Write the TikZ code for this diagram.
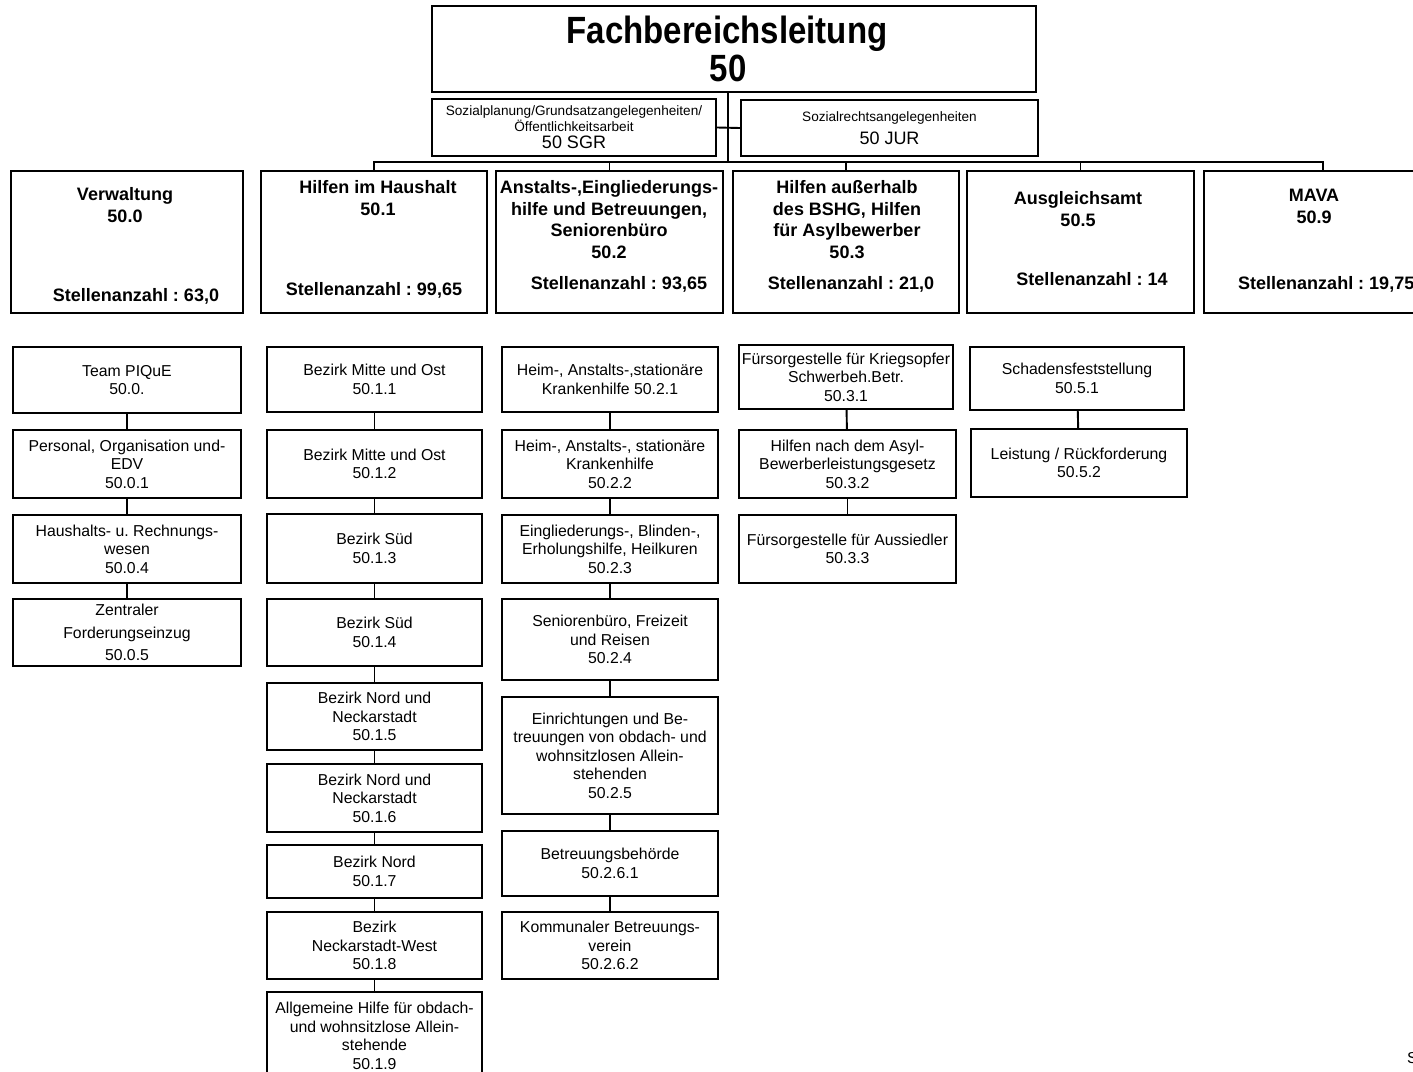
\documentclass[tikz,border=0pt]{standalone}
\usepackage{graphicx}
\usepackage{fontspec}
\setmainfont{Liberation Sans}
\frenchspacing

\begin{document}
\begin{tikzpicture}[x=1pt,y=-1pt,
  boxline/.style={draw, line width=2pt, inner sep=0pt, align=center},
  sz/.style 2 args={minimum width=#1pt, minimum height=#2pt},
  unitbox/.style={boxline, font=\fontsize{15.8}{18.5}\selectfont},
  dept/.style={boxline, minimum height=142pt},
  depttext/.style={inner sep=0pt, align=center, font=\fontsize{18}{21.5}\selectfont\bfseries},
  link/.style={line width=1.9pt}]
% Page frame
\useasboundingbox (0,0) rectangle (1413,1071);
% Head of department
\node[boxline, sz={604}{86}, font=\fontsize{33}{38}\selectfont\bfseries] (fbl) at (734,49)
  {\scalebox{1}[1.15]{Fachbereichsleitung}\kern14pt\\\scalebox{1}[1.15]{50}\kern12pt};
% Staff units beside the trunk
\node[boxline, sz={284}{57}, font=\fontsize{13.6}{13.5}\selectfont] (sgr) at (574,127.5)
  {Sozialplanung/Grundsatzangelegenheiten/\\Öffentlichkeitsarbeit\\[4pt]{\fontsize{18}{18}\selectfont 50 SGR}};
\node[boxline, sz={297}{56}, font=\fontsize{13.6}{14}\selectfont] (jur) at (889.5,128)
  {Sozialrechtsangelegenheiten\\[6pt]{\fontsize{18}{18}\selectfont 50 JUR}};
% Trunk down to the bus
\coordinate (hub) at (728,163);
\draw[link] (fbl.south -| hub) -- (hub);
\draw[link] (sgr.east) -- (jur.west);
% Departments
\node[dept, sz={232}{142}] (verw) at (127,242) {};
\node[dept, sz={226}{142}] (hih) at (374,242) {};
\node[dept, sz={227}{142}] (anst) at (609.5,242) {};
\node[dept, sz={226}{142}] (ausb) at (846,242) {};
\node[dept, sz={227}{142}] (ausg) at (1080.5,242) {};
\node[dept, sz={238}{142}] (mava) at (1323,242) {};
% Department titles
\node[depttext] (verwT) at (125,205) {Verwaltung\\50.0};
\node[depttext] (hihT) at (378,198) {Hilfen im Haushalt\\50.1};
\node[depttext] (anstT) at (609,219.5) {Anstalts-,Eingliederungs-\\hilfe und Betreuungen,\\Seniorenbüro\\50.2};
\node[depttext] (ausbT) at (847,219.5) {Hilfen außerhalb\\des BSHG, Hilfen\\für Asylbewerber\\50.3};
\node[depttext] (ausgT) at (1078,209) {Ausgleichsamt\\50.5};
\node[depttext] (mavaT) at (1314,206.5) {MAVA\\50.9};
% Head counts
\node[depttext] (verwS) at (136,296) {Stellenanzahl : 63,0};
\node[depttext] (hihS) at (374,290) {Stellenanzahl : 99,65};
\node[depttext] (anstS) at (619,284) {Stellenanzahl : 93,65};
\node[depttext] (ausbS) at (851,284) {Stellenanzahl : 21,0};
\node[depttext] (ausgS) at (1092,279) {Stellenanzahl : 14};
\node[depttext, anchor=west] (mavaS) at (1238,284) {Stellenanzahl : 19,75};
% Bus over the departments
\draw[link] (hih.north) -- ++(0,-8) -| (mava.north);
\foreach \d in {anst,ausb,ausg}
  \draw[link] (\d.north) -- ++(0,-8);
% Verwaltung units
\node[unitbox, sz={228}{66}] (a1) at (127,380) {Team PIQuE\\50.0.};
\node[unitbox, sz={228}{68}] (a2) at (127,464) {Personal, Organisation und-\\EDV\\50.0.1};
\node[unitbox, sz={228}{68}] (a3) at (127,549) {Haushalts- u. Rechnungs-\\wesen\\50.0.4};
\node[unitbox, sz={228}{67}] (a4) at (127,632.5) {Zentraler\\[4pt]Forderungseinzug\\[4pt]50.0.5};
% Hilfen im Haushalt units
\node[unitbox, sz={215}{65}] (b1) at (374.5,379.5) {Bezirk Mitte und Ost\\50.1.1};
\node[unitbox, sz={215}{68}] (b2) at (374.5,464) {Bezirk Mitte und Ost\\50.1.2};
\node[unitbox, sz={215}{69}] (b3) at (374.5,548.5) {Bezirk Süd\\50.1.3};
\node[unitbox, sz={215}{67}] (b4) at (374.5,632.5) {Bezirk Süd\\50.1.4};
\node[unitbox, sz={215}{67}] (b5) at (374.5,716.5) {Bezirk Nord und\\Neckarstadt\\50.1.5};
\node[unitbox, sz={215}{68}] (b6) at (374.5,798) {Bezirk Nord und\\Neckarstadt\\50.1.6};
\node[unitbox, sz={215}{53}] (b7) at (374.5,871.5) {Bezirk Nord\\50.1.7};
\node[unitbox, sz={215}{67}] (b8) at (374.5,945.5) {Bezirk\\Neckarstadt-West\\50.1.8};
\node[unitbox, sz={215}{88}] (b9) at (374.5,1036) {Allgemeine Hilfe für obdach-\\und wohnsitzlose Allein-\\stehende\\50.1.9};
% Anstalts- und Eingliederungshilfe units
\node[unitbox, sz={216}{65}] (c1) at (610,379.5) {Heim-, Anstalts-,stationäre\\Krankenhilfe 50.2.1};
\node[unitbox, sz={216}{68}] (c2) at (610,464) {Heim-, Anstalts-, stationäre\\Krankenhilfe\\50.2.2};
\node[unitbox, sz={216}{68}] (c3) at (610,549) {Eingliederungs-, Blinden-,\\Erholungshilfe, Heilkuren\\50.2.3};
\node[unitbox, sz={216}{81}] (c4) at (610,639.5) {Seniorenbüro, Freizeit\\und Reisen\\50.2.4};
\node[unitbox, sz={216}{117}] (c5) at (610,755.5) {Einrichtungen und Be-\\treuungen von obdach- und\\wohnsitzlosen Allein-\\stehenden\\50.2.5};
\node[unitbox, sz={216}{65}] (c6) at (610,863.5) {Betreuungsbehörde\\50.2.6.1};
\node[unitbox, sz={216}{67}] (c7) at (610,945.5) {Kommunaler Betreuungs-\\verein\\50.2.6.2};
% Hilfen ausserhalb des BSHG units
\node[unitbox, sz={214}{64}] (d1) at (846,377) {Fürsorgestelle für Kriegsopfer\\Schwerbeh.Betr.\\50.3.1};
\node[unitbox, sz={217}{68}] (d2) at (847.5,464) {Hilfen nach dem Asyl-\\Bewerberleistungsgesetz\\50.3.2};
\node[unitbox, sz={217}{68}] (d3) at (847.5,549) {Fürsorgestelle für Aussiedler\\50.3.3};
% Ausgleichsamt units
\node[unitbox, sz={214}{63}] (e1) at (1077,378.5) {Schadensfeststellung\\50.5.1};
\node[unitbox, sz={216}{68}] (e2) at (1079,463) {Leistung / Rückforderung\\50.5.2};
% Chains of units
\foreach \u/\l in {a1/a2,a2/a3,a3/a4,b1/b2,b2/b3,b3/b4,b4/b5,b5/b6,b6/b7,b7/b8,b8/b9,
                   c1/c2,c2/c3,c3/c4,c4/c5,c5/c6,c6/c7,d1/d2,d2/d3,e1/e2}
  \draw[link] (\u) -- (\l);
% Cut-off page mark
\node[anchor=west, inner sep=0pt, font=\fontsize{15.8}{18}\selectfont] (pg) at (1407,1058) {S};
\end{tikzpicture}
\end{document}
